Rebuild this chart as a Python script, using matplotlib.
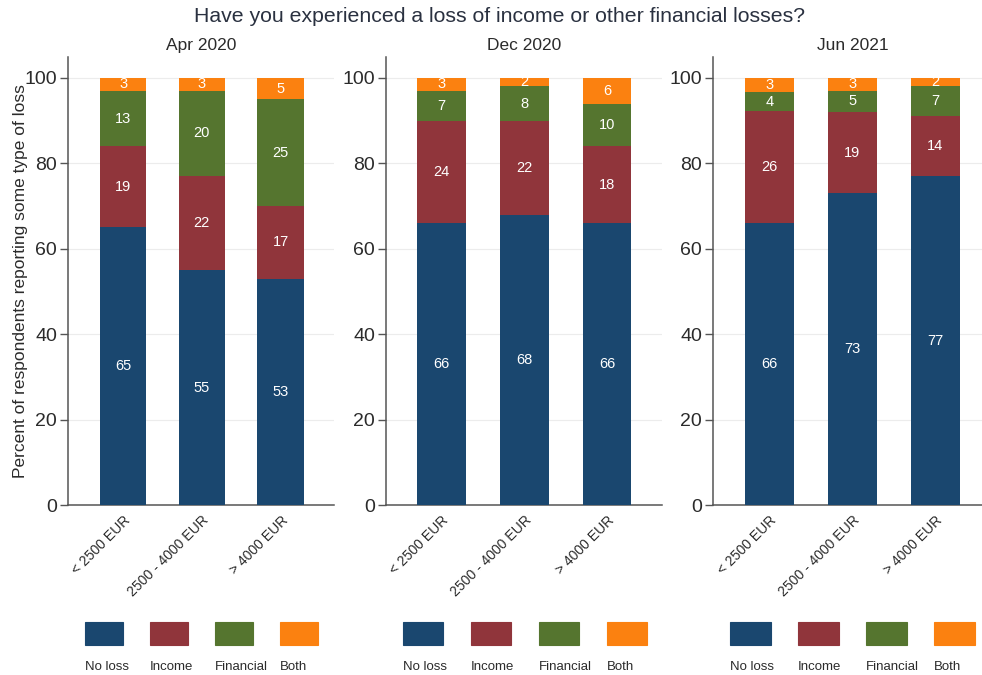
import numpy as np
import matplotlib
matplotlib.use('Agg')
import matplotlib.pyplot as plt
from matplotlib.patches import Rectangle

plt.rcParams['font.family'] = ['Liberation Sans', 'DejaVu Sans']

# data (percent of respondents), one row per survey wave
waves = ['Apr 2020', 'Dec 2020', 'Jun 2021']
income_groups = ['< 2500 EUR', '2500 - 4000 EUR', '> 4000 EUR']
series_names = ['No loss', 'Income', 'Financial', 'Both']
no_loss = [[65, 55, 53], [66, 68, 66], [66.0, 73, 77]]
income = [[19, 22, 17], [24, 22, 18], [26.3, 19, 14]]
financial = [[13, 20, 25], [7, 8, 10], [4.3, 5, 7]]
both = [[3, 3, 5], [3, 2, 6], [3.4, 3, 2]]

colors = ['#1a476f', '#90353b', '#55752f', '#fb8110']
W, H = 982, 675

# panel geometry in pixels: axis left edge, px per category, xlim
panels = [
    dict(left=68, step=78.75, xlim=(-0.70, 2.68), leg_step=65, box_w=38),
    dict(left=386, step=82.75, xlim=(-0.67, 2.66), leg_step=68, box_w=40),
    dict(left=713, step=83.0, xlim=(-0.68, 2.68), leg_step=68, box_w=41),
]
ax_bottom, ax_top_px = 505, 56.6

fig = plt.figure(figsize=(W / 100, H / 100), dpi=100)
fig.patch.set_facecolor('white')

fig.text(500 / W, 1 - 16 / H, 'Have you experienced a loss of income or other financial losses?',
         ha='center', va='center', fontsize=15.3, color='#2a3140')

for i, p in enumerate(panels):
    width_px = (p['xlim'][1] - p['xlim'][0]) * p['step']
    ax = fig.add_axes([p['left'] / W, (H - ax_bottom) / H,
                       width_px / W, (ax_bottom - ax_top_px) / H])
    ax.set_xlim(*p['xlim'])
    ax.set_ylim(0, 105)

    x = np.arange(len(income_groups))
    bottom = np.zeros(len(income_groups))
    for name, vals, c in zip(series_names,
                             [no_loss[i], income[i], financial[i], both[i]], colors):
        vals = np.array(vals, dtype=float)
        ax.bar(x, vals, 0.59, bottom=bottom, color=c, zorder=3)
        for xi, b, v in zip(x, bottom, vals):
            ax.text(xi, b + v / 2, f'{v:.0f}', ha='center', va='center',
                    color='white', fontsize=10.5, zorder=4)
        bottom += vals

    ax.set_yticks([0, 20, 40, 60, 80, 100])
    ax.tick_params(axis='y', length=6, width=1, color='#555555',
                   labelsize=14, labelcolor='#2b2b2b', pad=2)
    ax.set_xticks(x)
    ax.set_xticklabels(income_groups, rotation=45, ha='right',
                       rotation_mode='anchor', fontsize=10, color='#2b2b2b')
    ax.tick_params(axis='x', length=0, pad=6)
    ax.grid(axis='y', color='#ececec', lw=0.8, zorder=0)
    for s in ['top', 'right']:
        ax.spines[s].set_visible(False)
    for s in ['left', 'bottom']:
        ax.spines[s].set_color('#555555')
        ax.spines[s].set_linewidth(1.1)
    ax.set_title(waves[i], fontsize=12.5, color='#2b2b2b', pad=5)
    if i == 0:
        ax.set_ylabel('Percent of respondents reporting some type of loss',
                      fontsize=12.5, color='#2b2b2b')
        ax.yaxis.set_label_coords(-40 / width_px, 0.5)

    # legend: coloured boxes with labels underneath
    for k, (name, c) in enumerate(zip(series_names, colors)):
        bx = p['left'] + 17 + k * p['leg_step']
        fig.add_artist(Rectangle((bx / W, 1 - 645 / H), p['box_w'] / W, 23 / H,
                                 transform=fig.transFigure, facecolor=c,
                                 edgecolor=c, lw=0.8))
        fig.text(bx / W, 1 - 667 / H, name, ha='left', va='center',
                 fontsize=9.5, color='#2b2b2b')

fig.savefig('out.png', dpi=100)
